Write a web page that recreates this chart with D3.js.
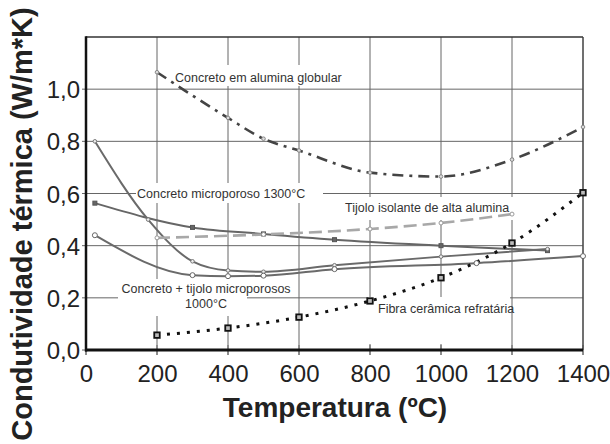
<!DOCTYPE html>
<html>
<head>
<meta charset="utf-8">
<script src="https://cdn.jsdelivr.net/npm/d3@7/dist/d3.min.js"></script>
<style>
  html, body { margin: 0; padding: 0; background: #fff; }
  svg { display: block; font-family: "Liberation Sans", Arial, sans-serif; }
</style>
</head>
<body>
<svg id="chart" width="610" height="444"></svg>
<script>
// ---- data ----
const xTicks = [0, 200, 400, 600, 800, 1000, 1200, 1400];
const yTicks = [0, 0.2, 0.4, 0.6, 0.8, 1.0];
const yTickLabels = ["0,0", "0,2", "0,4", "0,6", "0,8", "1,0"];

const aluminaGlobular = [[200,1.065],[400,0.89],[500,0.81],[600,0.765],[800,0.68],[1000,0.665],[1200,0.73],[1400,0.855]];
const microporoso1300a = [[25,0.563],[300,0.47],[500,0.445],[700,0.423],[1000,0.40],[1300,0.381]];
const microporoso1300b = [[25,0.80],[175,0.50],[300,0.34],[400,0.305],[500,0.30],[700,0.325],[1000,0.358],[1300,0.387]];
const concretoTijolo = [[25,0.44],[300,0.287],[400,0.283],[500,0.285],[700,0.31],[1100,0.333],[1400,0.36]];
const tijoloAlumina = [[200,0.43],[500,0.443],[800,0.464],[1000,0.487],[1200,0.521]];
const fibraCeramica = [[200,0.057],[400,0.084],[600,0.126],[800,0.188],[1000,0.277],[1200,0.41],[1400,0.603]];

const labelTexts = {
  globular: "Concreto em alumina globular",
  micro: "Concreto microporoso 1300°C",
  tijolo: "Tijolo isolante de alta alumina",
  ct1: "Concreto + tijolo microporosos",
  ct2: "1000°C",
  fibra: "Fibra cerâmica refratária"
};

// ---- layout ----
const svg = d3.select("#chart");
const x = d3.scaleLinear().domain([0, 1400]).range([86, 583]);
const y = d3.scaleLinear().domain([0, 1.2]).range([350, 37]);

// gridlines
const grid = svg.append("g").attr("stroke", "#666").attr("stroke-width", 1);
xTicks.forEach(t => {
  grid.append("line").attr("x1", x(t)).attr("x2", x(t)).attr("y1", y(1.2)).attr("y2", y(0) + 5);
});
yTicks.forEach(t => {
  grid.append("line").attr("x1", x(0) - 4).attr("x2", x(1400)).attr("y1", y(t)).attr("y2", y(t));
});

// white label backgrounds (they hide the gridlines)
const boxes = [
  [173, 65, 347, 86],
  [136, 183, 323, 203],
  [343, 197, 514, 220],
  [118, 279, 247, 316],
  [368, 297, 510, 344]
];
svg.append("g").selectAll("rect").data(boxes).join("rect")
  .attr("x", d => d[0]).attr("y", d => d[1])
  .attr("width", d => d[2] - d[0]).attr("height", d => d[3] - d[1])
  .attr("fill", "#fff");

// small tick marks on the x axis (both sides)
xTicks.forEach(t => {
  svg.append("line").attr("x1", x(t)).attr("x2", x(t)).attr("y1", y(0) - 5).attr("y2", y(0) + 5)
    .attr("stroke", "#666").attr("stroke-width", 1);
});

// frame
svg.append("line").attr("x1", x(0)).attr("x2", x(1400)).attr("y1", y(1.2)).attr("y2", y(1.2))
  .attr("stroke", "#333").attr("stroke-width", 1.5);
svg.append("line").attr("x1", x(1400)).attr("x2", x(1400)).attr("y1", y(1.2)).attr("y2", y(0))
  .attr("stroke", "#444").attr("stroke-width", 1.2);
svg.append("line").attr("x1", x(0)).attr("x2", x(0)).attr("y1", y(1.2) - 0.75).attr("y2", y(0) + 1.5)
  .attr("stroke", "#111").attr("stroke-width", 2.5);
svg.append("line").attr("x1", x(0) - 1).attr("x2", x(1400)).attr("y1", y(0)).attr("y2", y(0))
  .attr("stroke", "#111").attr("stroke-width", 3);

// axis tick labels via d3 axes (domain/ticks hidden)
const xAxis = d3.axisBottom(x).tickValues(xTicks).tickSize(0).tickPadding(0).tickFormat(d3.format("d"));
const gx = svg.append("g").attr("transform", `translate(0,${y(0)})`).call(xAxis);
gx.select(".domain").remove();
gx.selectAll("text").attr("font-size", 24).attr("fill", "#222").attr("dy", null).attr("y", 32)
  .attr("font-family", "Liberation Sans, Arial, sans-serif");

const yAxis = d3.axisLeft(y).tickValues(yTicks).tickSize(0).tickPadding(0)
  .tickFormat((d, i) => yTickLabels[i]);
const gy = svg.append("g").attr("transform", `translate(${x(0)},0)`).call(yAxis);
gy.select(".domain").remove();
gy.selectAll("text").attr("font-size", 24).attr("fill", "#222").attr("x", -6).attr("dy", "0.36em")
  .attr("font-family", "Liberation Sans, Arial, sans-serif");

// axis titles
svg.append("text").attr("x", 335).attr("y", 417).attr("text-anchor", "middle")
  .attr("font-size", 28).attr("font-weight", "bold").attr("fill", "#222")
  .text("Temperatura (ºC)");
svg.append("text").attr("transform", "translate(32,224) rotate(-90)").attr("text-anchor", "middle")
  .attr("font-size", 29).attr("font-weight", "bold").attr("fill", "#222")
  .text("Condutividade térmica (W/m*K)");

// ---- series ----
const line = d3.line().x(d => x(d[0])).y(d => y(d[1])).curve(d3.curveMonotoneX);

function drawSeries(data, stroke, width, dash) {
  svg.append("path").datum(data).attr("d", line)
    .attr("fill", "none").attr("stroke", stroke).attr("stroke-width", width)
    .attr("stroke-dasharray", dash).attr("stroke-linecap", "butt");
}
drawSeries(microporoso1300a, "#666", 2, null);
drawSeries(microporoso1300b, "#6a6a6a", 2, null);
drawSeries(concretoTijolo, "#6a6a6a", 2, null);
drawSeries(tijoloAlumina, "#a8a8a8", 2.6, "13,6");
drawSeries(aluminaGlobular, "#444", 2.6, "11,6,3,6");
drawSeries(fibraCeramica, "#111", 3, "3,7");

// markers
function circles(data, r, stroke, fill) {
  svg.append("g").selectAll("circle").data(data).join("circle")
    .attr("cx", d => x(d[0])).attr("cy", d => y(d[1])).attr("r", r)
    .attr("fill", fill).attr("stroke", stroke).attr("stroke-width", 1);
}
function squares(data, s, stroke, fill, sw) {
  svg.append("g").selectAll("rect").data(data).join("rect")
    .attr("x", d => x(d[0]) - s / 2).attr("y", d => y(d[1]) - s / 2)
    .attr("width", s).attr("height", s)
    .attr("fill", fill).attr("stroke", stroke).attr("stroke-width", sw);
}
circles(aluminaGlobular, 1.8, "#888", "#ddd");
squares(microporoso1300a, 4, "#555", "#666", 1);
circles(microporoso1300b, 1.8, "#777", "#eee");
circles(concretoTijolo, 2.5, "#666", "#fff");
circles(tijoloAlumina, 2, "#999", "#fff");
squares(fibraCeramica, 5.5, "#111", "#bbb", 1.8);

// ---- labels ----
const lab = svg.append("g").attr("font-size", 12.5).attr("fill", "#333");
lab.append("text").attr("x", 175).attr("y", 82).text(labelTexts.globular);
lab.append("text").attr("x", 137).attr("y", 198).text(labelTexts.micro);
lab.append("text").attr("x", 345).attr("y", 212).text(labelTexts.tijolo);
lab.append("text").attr("x", 206).attr("y", 293).attr("text-anchor", "middle").text(labelTexts.ct1);
lab.append("text").attr("x", 206).attr("y", 308).attr("text-anchor", "middle").text(labelTexts.ct2);
lab.append("text").attr("x", 378).attr("y", 313).text(labelTexts.fibra);
</script>
</body>
</html>
